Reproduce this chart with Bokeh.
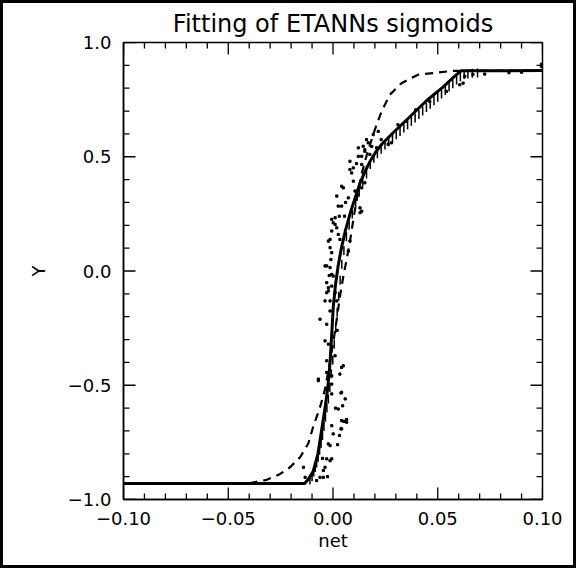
import math
from bokeh.plotting import figure
from bokeh.layouts import column
from bokeh.models import LinearAxis, FixedTicker, CustomJSTickFormatter, Range1d
from bokeh.embed import file_html
from bokeh.resources import INLINE

title_text = "Fitting of ETANNs sigmoids"
x_label = "net"
y_label = "Y"

x_major = [-0.10, -0.05, 0.00, 0.05, 0.10]
y_major = [-1.0, -0.5, 0.0, 0.5, 1.0]
x_minor = [round(-0.10 + 0.01 * i, 2) for i in range(21) if i % 5 != 0]
y_minor = [round(-1.0 + 0.1 * i, 1) for i in range(21) if i % 5 != 0]

# solid fitted curve
fit_x = [-0.100, -0.0135, -0.0117, -0.0094, -0.0072, -0.0055, -0.0038, -0.0025, -0.0014, -0.0006,
         0.0001, 0.0012, 0.0024, 0.0040, 0.0060, 0.0085, 0.0129, 0.0155, 0.0180, 0.0205,
         0.0235, 0.0287, 0.0367, 0.0446, 0.0525, 0.0589, 0.0612, 0.100]
fit_y = [-0.930, -0.930, -0.910, -0.875, -0.800, -0.700, -0.600, -0.510, -0.400, -0.275,
         -0.160, -0.060, 0.020, 0.100, 0.180, 0.262, 0.385, 0.440, 0.485, 0.522,
         0.557, 0.605, 0.675, 0.745, 0.805, 0.859, 0.876, 0.877]

# dashed sigmoid
ref_x = [-0.100, -0.0395, -0.0316, -0.0252, -0.0205, -0.0157, -0.0118, -0.0094, -0.0062, -0.0038,
         -0.0015, 0.0005, 0.0018, 0.0035, 0.0050, 0.0065, 0.0081, 0.0105, 0.0135, 0.0165,
         0.0200, 0.0232, 0.0271, 0.0327, 0.0406, 0.0494, 0.0573, 0.100]
ref_y = [-0.930, -0.928, -0.914, -0.888, -0.859, -0.815, -0.755, -0.680, -0.597, -0.517,
         -0.400, -0.290, -0.210, -0.100, -0.020, 0.050, 0.130, 0.270, 0.420, 0.520,
         0.619, 0.699, 0.771, 0.822, 0.859, 0.868, 0.876, 0.877]

# scattered measured points
dots_x = [0.0038, 0.0025, 0.0052, 0.0038, 0.0001, -0.0022, -0.0014, -0.0038, -0.0046, -0.0062,
          -0.0078, 0.0065, 0.0041, 0.0049, 0.0033, -0.0070, -0.0006, 0.0041, -0.0006, 0.0041,
          0.0065, -0.0006, 0.0041, -0.0014, -0.0030, -0.0006, -0.0133, -0.0046, -0.0141, 0.0010,
          -0.0030, -0.0070, -0.0030, -0.0006,
          -0.0038, -0.0014, 0.0001, -0.0006, -0.0022, -0.0030, 0.0010, -0.0038, -0.0014, -0.0062,
          -0.0014, 0.0018, -0.0038, -0.0022, -0.0030, -0.0006, -0.0030, -0.0022,
          0.0168, 0.0152, 0.0121, 0.0081, 0.0097, 0.0137, 0.0089, 0.0097, 0.0049, 0.0137,
          0.0018, 0.0073, 0.0041, 0.0129, 0.0129, 0.0010, 0.0001, 0.0018, -0.0006, -0.0022,
          0.0033, -0.0014, 0.0121, 0.0137, 0.0081, 0.0152, 0.0041, 0.0025, 0.0137, -0.0006,
          0.0010, 0.0081, -0.0014, -0.0006, -0.0030, 0.0073,
          0.0192, 0.0160, 0.0216, 0.0144, 0.0208, 0.0279, 0.0263, 0.0351, 0.0462, 0.0541,
          0.0605, 0.0621, 0.0629, 0.0724, 0.0668, 0.0176, 0.0152, 0.0995, 0.0995, 0.0840, 0.0900,
          0.0112, 0.0105, 0.0060, 0.0055, 0.0030, 0.0025, -0.0010, -0.0018, 0.0020, 0.0058,
          0.0012, -0.0050, -0.0026, 0.0022, 0.0046, 0.0031, 0.0185, 0.0230, 0.0310, 0.0395]
dots_y = [-0.534, -0.604, -0.658, -0.691, -0.713, -0.757, -0.830, -0.859, -0.873, -0.903,
          -0.917, -0.662, -0.422, -0.415, -0.451, -0.480, -0.495, -0.531, -0.538, -0.655,
          -0.650, -0.677, -0.691, -0.764, -0.822, -0.822, -0.903, -0.903, -0.859, -0.371,
          -0.393, -0.473, -0.444, -0.459,
          0.022, 0.015, -0.022, -0.066, -0.073, -0.095, -0.095, -0.131, -0.131, -0.211,
          -0.175, -0.131, -0.306, -0.320, -0.233, -0.015, -0.051, -0.087,
          0.561, 0.531, 0.502, 0.480, 0.451, 0.466, 0.429, 0.393, 0.364, 0.364,
          0.328, 0.320, 0.284, 0.276, 0.255, 0.233, 0.211, 0.189, 0.175, 0.131,
          0.138, 0.102, 0.539, 0.502, 0.444, 0.386, 0.371, 0.284, 0.262, 0.226,
          0.204, 0.131, 0.138, 0.080, 0.022, 0.087,
          0.597, 0.575, 0.611, 0.546, 0.539, 0.561, 0.555, 0.655, 0.742, 0.786,
          0.815, 0.822, 0.852, 0.862, 0.860, 0.510, 0.524, 0.895, 0.905, 0.868, 0.870,
          0.470, 0.350, 0.300, 0.240, 0.240, 0.160, 0.050, -0.020, -0.260, -0.560,
          -0.600, -0.820, -0.900, -0.760, -0.590, -0.720, 0.545, 0.575, 0.640, 0.705]

# dense streaks of points along the fitted curve
band_x = [-0.0110, -0.0100, -0.0092, -0.0085, -0.0078, -0.0071, -0.0064, -0.0057, -0.0050, -0.0043,
          -0.0036, -0.0029, -0.0022, -0.0015, -0.0008, -0.0001, 0.0006, 0.0013, 0.0020, 0.0027,
          0.0034, 0.0042, 0.0052, 0.0064, 0.0077, 0.0092, 0.0108, 0.0125, 0.0142, 0.0160,
          0.0178, 0.0195, 0.0212, 0.0230, 0.0248, 0.0266, 0.0284, 0.0302, 0.0320, 0.0338,
          0.0356, 0.0374, 0.0392, 0.0410, 0.0428, 0.0446, 0.0464, 0.0482, 0.0500, 0.0518,
          0.0536, 0.0554, 0.0572, 0.0590, 0.0608, 0.0626, 0.0644, 0.0665, 0.0690]
band_y = [-0.915, -0.900, -0.880, -0.860, -0.840, -0.815, -0.785, -0.755, -0.720, -0.680,
          -0.640, -0.600, -0.560, -0.510, -0.450, -0.390, -0.320, -0.250, -0.180, -0.110,
          -0.040, 0.030, 0.090, 0.150, 0.200, 0.250, 0.300, 0.345, 0.390, 0.425,
          0.466, 0.493, 0.513, 0.533, 0.551, 0.566, 0.581, 0.596, 0.611, 0.626,
          0.640, 0.655, 0.670, 0.685, 0.700, 0.715, 0.730, 0.745, 0.760, 0.775,
          0.790, 0.805, 0.820, 0.836, 0.850, 0.860, 0.862, 0.865, 0.867]

FONT = "DejaVu Sans"

p = figure(width=570, height=562, output_backend="svg", toolbar_location=None,
           x_range=Range1d(-0.10, 0.10), y_range=Range1d(-1.0, 1.0),
           x_axis_type=None, y_axis_type=None,
           min_border_left=120, min_border_right=31, min_border_top=38, min_border_bottom=66)
p.title.text = title_text
p.title.align = "center"
p.title.text_font = FONT
p.title.text_font_size = "24px"
p.title.text_font_style = "normal"
p.title.text_color = "black"
p.title.standoff = 9
p.grid.visible = False
p.outline_line_color = "black"
p.outline_line_width = 1.5
p.background_fill_color = "white"
p.border_fill_color = "white"

xfmt = CustomJSTickFormatter(code="return tick.toFixed(2).replace('-', '\u2212');")
yfmt = CustomJSTickFormatter(code="return tick.toFixed(1).replace('-', '\u2212');")

def style_axis(ax):
    ax.axis_line_color = "black"
    ax.axis_line_width = 1.5
    ax.major_tick_in = 0
    ax.major_tick_out = 0
    ax.minor_tick_in = 0
    ax.minor_tick_out = 0
    ax.major_label_text_font = FONT
    ax.major_label_text_font_size = "18px"
    ax.major_label_text_color = "black"
    ax.axis_label_text_font = FONT
    ax.axis_label_text_font_style = "normal"
    ax.axis_label_text_font_size = "18px"
    ax.axis_label_text_color = "black"

xb = LinearAxis(ticker=FixedTicker(ticks=x_major), formatter=xfmt, axis_label=x_label)
style_axis(xb)
xb.major_label_standoff = 12
xb.axis_label_standoff = 2
p.add_layout(xb, "below")

yl = LinearAxis(ticker=FixedTicker(ticks=y_major), formatter=yfmt, axis_label=y_label)
style_axis(yl)
yl.major_label_standoff = 12
yl.axis_label_standoff = 16
p.add_layout(yl, "left")

# inward tick marks on all four sides of the frame
TICK = dict(line_color="black", line_width=1.3, length_units="screen")
p.ray(x=x_major, y=-1.0, length=12, angle=math.pi / 2, **TICK)
p.ray(x=x_minor, y=-1.0, length=6, angle=math.pi / 2, **TICK)
p.ray(x=x_major, y=1.0, length=12, angle=-math.pi / 2, **TICK)
p.ray(x=x_minor, y=1.0, length=6, angle=-math.pi / 2, **TICK)
p.ray(x=-0.10, y=y_major, length=12, angle=0.0, **TICK)
p.ray(x=-0.10, y=y_minor, length=6, angle=0.0, **TICK)
p.ray(x=0.10, y=y_major, length=12, angle=math.pi, **TICK)
p.ray(x=0.10, y=y_minor, length=6, angle=math.pi, **TICK)

p.scatter(band_x, band_y, marker="dash", angle=1.5708, size=9, line_color="black", line_width=1.5)
p.scatter(dots_x, dots_y, marker="square", size=2.2, color="black")
p.line(ref_x, ref_y, line_color="black", line_width=2.2, line_dash="8 6")
p.line(fit_x, fit_y, line_color="black", line_width=3)

# outer frame around the whole picture
page = column(p, styles={"border": "3px solid black", "background-color": "white"})

open("out.html", "w").write(file_html(page, INLINE))
